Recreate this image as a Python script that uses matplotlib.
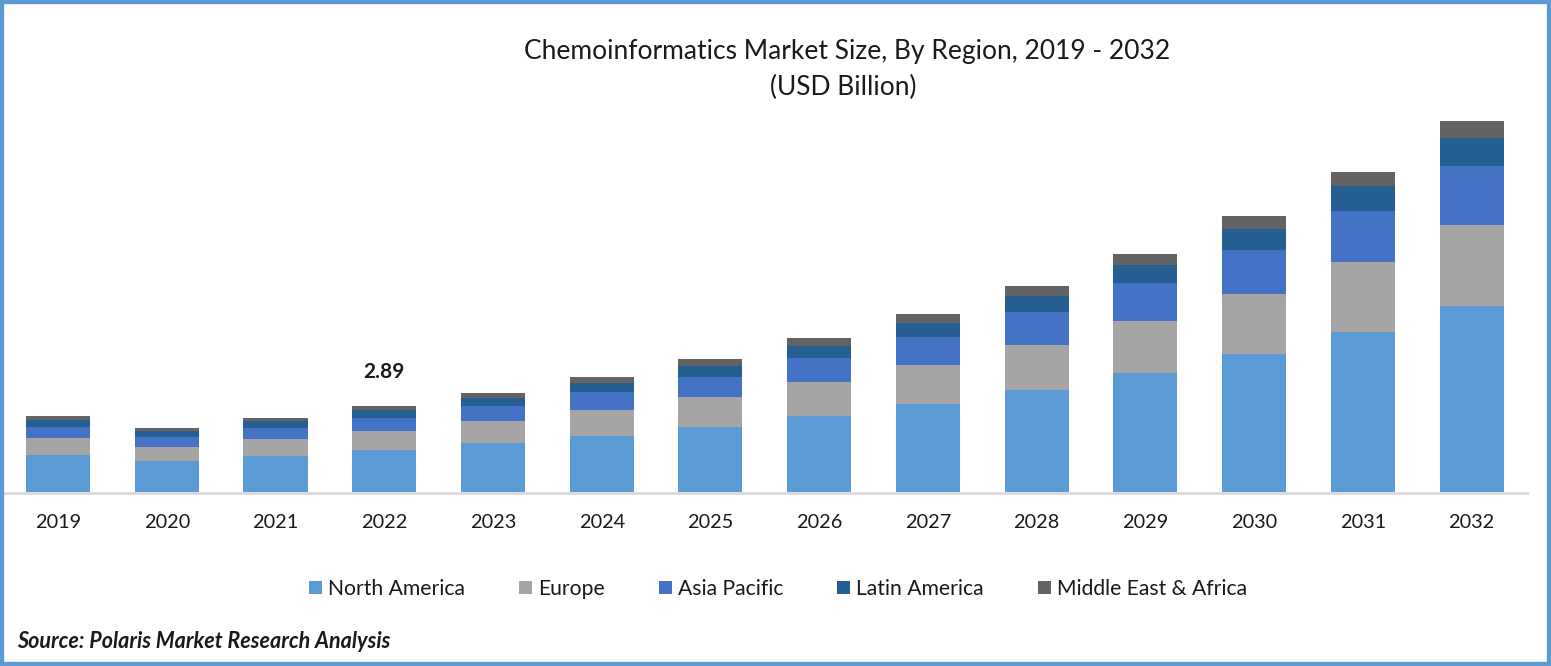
from matplotlib import pyplot as plt
import matplotlib
import numpy as np


matplotlib.rcParams['font.family'] = 'Lato'

years = ['2019', '2020', '2021', '2022', '2023', '2024', '2025',
         '2026', '2027', '2028', '2029', '2030', '2031', '2032']
north_america = [1.24, 1.04, 1.21, 1.41, 1.65, 1.88, 2.18, 2.55, 2.96, 3.43, 4.00, 4.64, 5.38, 6.25]
europe = [0.57, 0.47, 0.57, 0.64, 0.74, 0.87, 1.01, 1.14, 1.31, 1.51, 1.75, 2.02, 2.35, 2.72]
asia_pacific = [0.37, 0.34, 0.37, 0.44, 0.50, 0.60, 0.67, 0.81, 0.94, 1.11, 1.28, 1.48, 1.71, 1.98]
latin_america = [0.24, 0.20, 0.24, 0.27, 0.27, 0.30, 0.37, 0.40, 0.47, 0.54, 0.60, 0.71, 0.84, 0.94]
middle_east = [0.13, 0.10, 0.10, 0.13, 0.17, 0.20, 0.24, 0.27, 0.30, 0.34, 0.37, 0.41, 0.47, 0.57]

regions = ['North America', 'Europe', 'Asia Pacific', 'Latin America', 'Middle East & Africa']
colors = ['#5B9BD5', '#A5A5A5', '#4472C4', '#255E91', '#636363']


def drawBars(ax):
    x = np.arange(len(years))
    bottom = np.zeros(len(years))
    series = [north_america, europe, asia_pacific, latin_america, middle_east]
    for values, region, color in zip(series, regions, colors):
        ax.bar(x, values, width=0.589, bottom=bottom, color=color, label=region)
        bottom += np.array(values)

    # value printed over one bar only
    ax.text(3.0, 3.7, '2.89', ha='center', va='bottom', fontsize=15, fontweight='bold', color='#1a1a1a')

    ax.set_xticks(x)
    ax.set_xticklabels(years)
    ax.set_xlim(-0.497, 13.51)
    ax.set_ylim(0, 13.2)


fig = plt.figure(figsize=(15.51, 6.66), dpi=100)
ax = fig.add_axes([4 / 1551, 1 - 492 / 666, 1523 / 1551, 393 / 666])
drawBars(ax)

# only the base line stays
ax.yaxis.set_visible(False)
for side in ['top', 'left', 'right']:
    ax.spines[side].set_visible(False)
ax.spines['bottom'].set_color('#D9D9D9')
ax.spines['bottom'].set_linewidth(2)
ax.spines['bottom'].set_position(('outward', 0.72))
ax.tick_params(axis='x', length=0, pad=15, labelsize=14.3, labelcolor='#1a1a1a')

fig.text(847 / 1551, 1 - 52 / 666, 'Chemoinformatics Market Size, By Region, 2019 - 2032',
         ha='center', va='center', fontsize=19, color='#1a1a1a')
fig.text(843 / 1551, 1 - 87 / 666, '(USD Billion)', ha='center', va='center', fontsize=19, color='#1a1a1a')

fig.legend(loc='center', bbox_to_anchor=(778 / 1551, 1 - 589 / 666), ncol=5, frameon=False,
           fontsize=15.2, handlelength=0.62, handleheight=0.62, handletextpad=0.28, columnspacing=2.55,
           labelcolor='#1a1a1a')

fig.text(17 / 1551, 1 - 641 / 666, 'Source: Polaris Market Research Analysis',
         ha='left', va='center', fontsize=15.5, fontweight='bold', fontstyle='italic', color='#1a1a1a')

# blue frame round the picture
frame = plt.Rectangle((0, 0), 1, 1, transform=fig.transFigure, fill=False,
                      edgecolor='#5B9BD5', linewidth=6)
fig.add_artist(frame)

fig.savefig('out.png', dpi=100)
